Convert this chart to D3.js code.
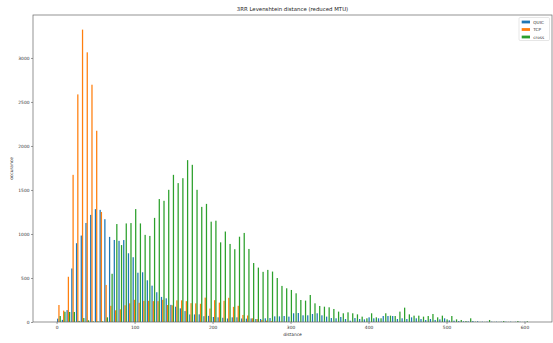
<!DOCTYPE html>
<html>
<head>
<meta charset="utf-8">
<script src="https://cdn.jsdelivr.net/npm/d3@7"></script>
<style>
  html, body { margin: 0; padding: 0; background: #fff; }
  svg { display: block; font-family: "DejaVu Sans", sans-serif; }
</style>
</head>
<body>
<svg id="chart" width="553" height="343"></svg>
<script>
// Histogram of Levenshtein distances: 100 equal bins over [0, 605]
const binWidth = 6.05;
const seriesNames = ["QUIC", "TCP", "cross"];
const seriesColors = ["#1f77b4", "#ff7f0e", "#2ca02c"];

const quicCounts = [
  38, 24, 135, 608, 895, 982, 1125, 1217, 1282, 1274,
  1168, 967, 932, 922, 931, 781, 736, 560, 565, 474,
  413, 338, 285, 269, 195, 174, 155, 124, 86, 86,
  87, 66, 70, 57, 53, 48, 40, 53, 53, 40,
  38, 40, 34, 34, 42, 45, 64, 64, 68, 61,
  99, 102, 76, 76, 91, 99, 76, 61, 45, 42,
  57, 34, 15, 45, 34, 30, 53, 42, 42, 68,
  68, 68, 34, 42, 34, 53, 42, 34, 23, 34,
  23, 30, 42, 19, 15, 11, 8, 8, 11, 8,
  4, 4, 4, 4, 4, 4, 4, 3, 3, 3
];
const tcpCounts = [
  193, 130, 514, 1672, 2586, 3322, 3064, 2696, 2173, 1250,
  421, 184, 133, 144, 190, 212, 252, 218, 240, 241,
  237, 237, 252, 193, 190, 246, 246, 237, 214, 212,
  207, 277, 153, 248, 220, 241, 275, 172, 184, 80,
  74, 42, 34, 22, 15, 10, 6, 4, 3, 2,
  2, 1, 0, 0, 0, 0, 0, 0, 0, 0,
  0, 0, 0, 0, 0, 0, 0, 0, 0, 0,
  0, 0, 0, 0, 0, 0, 0, 0, 0, 0,
  0, 0, 0, 0, 0, 0, 0, 0, 0, 0,
  0, 0, 0, 0, 0, 0, 0, 0, 0, 0
];
const crossCounts = [
  68, 116, 114, 114, 12, 45, 19, 8, 8, 8,
  53, 548, 1113, 874, 1120, 1124, 1283, 1120, 990, 978,
  1183, 1397, 1377, 1502, 1672, 1578, 1634, 1839, 1786, 1502,
  1308, 1342, 1140, 1151, 905, 1028, 887, 827, 969, 1012,
  830, 670, 618, 570, 592, 573, 500, 410, 383, 364,
  326, 250, 243, 307, 212, 182, 174, 167, 148, 118,
  99, 110, 99, 87, 61, 42, 99, 53, 42, 99,
  72, 68, 118, 163, 87, 72, 72, 61, 68, 91,
  53, 72, 30, 68, 30, 23, 11, 42, 4, 2,
  2, 23, 2, 2, 11, 2, 1, 11, 1, 8
];

const xTicks = [0, 100, 200, 300, 400, 500, 600];
const yTicks = [0, 500, 1000, 1500, 2000, 2500, 3000];
const titleText = "3RR Levenshtein distance (reduced MTU)";
const xLabel = "distance";
const yLabel = "occurance";

const series = [quicCounts, tcpCounts, crossCounts];
const nBins = quicCounts.length;
const dataMax = nBins * binWidth;

const svg = d3.select("#chart");
const plot = { left: 33, right: 552, top: 15, bottom: 322 };

const x = d3.scaleLinear()
  .domain([-0.05 * dataMax, 1.05 * dataMax])
  .range([plot.left, plot.right]);
const yMax = d3.max(series.flat()) * 1.05;
const y = d3.scaleLinear().domain([0, yMax]).range([plot.bottom, plot.top]);

// side-by-side bars inside each bin (80% of the bin width shared by 3 series)
const barW = 0.8 * binWidth / series.length;
series.forEach((counts, si) => {
  svg.append("g")
    .selectAll("rect")
    .data(counts)
    .join("rect")
    .attr("x", (d, i) => x(i * binWidth + 0.1 * binWidth + si * barW))
    .attr("width", (d, i) => x(barW) - x(0))
    .attr("y", d => y(d))
    .attr("height", d => y(0) - y(d))
    .attr("fill", seriesColors[si]);
});

// axes
const fmt = d3.format("d");
const xAxis = d3.axisBottom(x).tickValues(xTicks).tickFormat(fmt).tickSize(2).tickPadding(1.5);
const yAxis = d3.axisLeft(y).tickValues(yTicks).tickFormat(fmt).tickSize(2).tickPadding(1.5);

const gx = svg.append("g").attr("transform", `translate(0,${plot.bottom})`).call(xAxis);
const gy = svg.append("g").attr("transform", `translate(${plot.left},0)`).call(yAxis);
[gx, gy].forEach(g => {
  g.select(".domain").remove();
  g.selectAll("line").attr("stroke", "#555").attr("stroke-width", 0.6);
  g.selectAll("text").attr("font-size", 4.4).attr("fill", "#333")
    .attr("font-family", "DejaVu Sans, sans-serif");
});

// frame
svg.append("rect")
  .attr("x", plot.left).attr("y", plot.top)
  .attr("width", plot.right - plot.left).attr("height", plot.bottom - plot.top)
  .attr("fill", "none").attr("stroke", "#666").attr("stroke-width", 0.7);

// title and axis labels
svg.append("text")
  .attr("x", (plot.left + plot.right) / 2).attr("y", 11)
  .attr("text-anchor", "middle").attr("font-size", 5.4).attr("fill", "#222")
  .text(titleText);
svg.append("text")
  .attr("x", (plot.left + plot.right) / 2).attr("y", 336)
  .attr("text-anchor", "middle").attr("font-size", 4.4).attr("fill", "#333")
  .text(xLabel);
svg.append("text")
  .attr("transform", `translate(13,${(plot.top + plot.bottom) / 2}) rotate(-90)`)
  .attr("text-anchor", "middle").attr("font-size", 4.4).attr("fill", "#333")
  .text(yLabel);

// legend
const legend = svg.append("g").attr("transform", "translate(519,17.5)");
legend.append("rect")
  .attr("width", 30.5).attr("height", 23).attr("rx", 1.2)
  .attr("fill", "#fff").attr("fill-opacity", 0.8)
  .attr("stroke", "#ccc").attr("stroke-width", 0.5);
seriesNames.forEach((name, i) => {
  const row = legend.append("g").attr("transform", `translate(0,${4.5 + i * 7.5})`);
  row.append("rect").attr("x", 2.7).attr("y", -1.4).attr("width", 8.3).attr("height", 2.8)
    .attr("fill", seriesColors[i]);
  row.append("text").attr("x", 14.3).attr("y", 1.5)
    .attr("font-size", 4.2).attr("fill", "#333").text(name);
});
</script>
</body>
</html>
